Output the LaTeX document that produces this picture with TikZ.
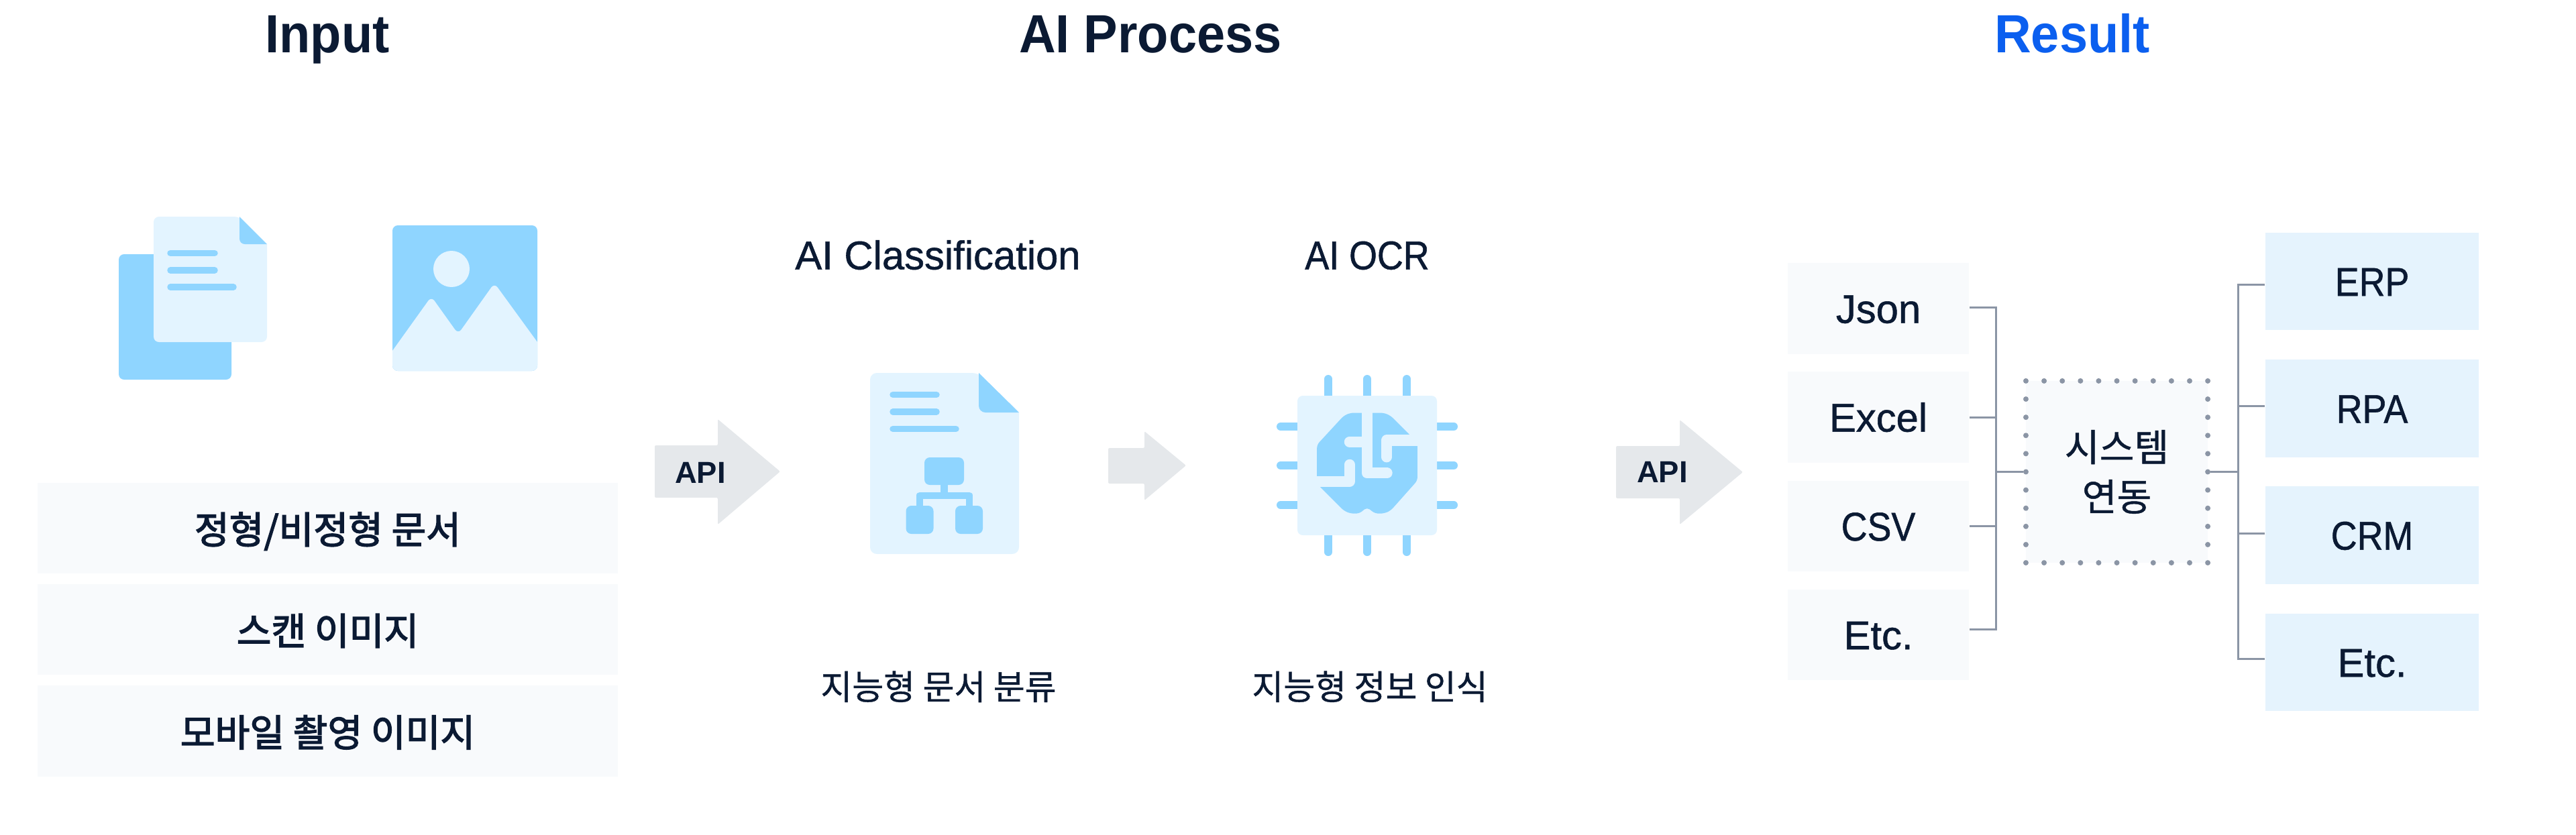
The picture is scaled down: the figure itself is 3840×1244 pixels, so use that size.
\documentclass[tikz,border=0pt]{standalone}
\usepackage{fontspec}
\setmainfont{Liberation Sans}
\newfontfamily\krfont[FakeBold=0.8]{Noto Sans CJK KR}
\newfontfamily\krmedfont[FakeBold=2.6]{Noto Sans CJK KR}
\newfontfamily\latinfont[FakeBold=0.9]{Liberation Sans}
\newfontfamily\capsfont[FakeBold=0.9,FakeStretch=0.9]{Liberation Sans}
\newfontfamily\headfont[FakeStretch=0.945]{Liberation Sans}
\definecolor{inkblue}{HTML}{0B1A33}
\definecolor{resultblue}{HTML}{0B5FEF}
\definecolor{iconblue}{HTML}{8FD5FF}
\definecolor{iconpale}{HTML}{E3F4FF}
\definecolor{boxgrey}{HTML}{F8FAFC}
\definecolor{boxblue}{HTML}{E5F3FD}
\definecolor{arrowgrey}{HTML}{E5E8EB}
\definecolor{linegrey}{HTML}{8B95A5}
\def\fillblue{\fill[color=iconblue]}
\def\fillpale{\fill[color=iconpale]}
\def\fillarrow{\fill[color=arrowgrey,rounded corners=0.02cm]}

\begin{document}
\begin{tikzpicture}[x=0.01cm,y=-0.01cm,inner sep=0pt,
  headtext/.style={text=inkblue,font=\headfont\bfseries\fontsize{22.8}{27}\selectfont,text height=0.57cm,text depth=0pt},
  subtext/.style={text=inkblue,font=\latinfont\fontsize{17}{20}\selectfont,text height=0.43cm,text depth=0pt},
  kotext/.style={text=inkblue,font=\krfont\fontsize{14.5}{20}\selectfont,text height=0.42cm,text depth=0pt},
  apitext/.style={text=inkblue,font=\bfseries\fontsize{12.9}{16}\selectfont,text height=0.35cm,text depth=0pt},
  listbox/.style={fill=boxgrey,text=inkblue,font=\krmedfont\fontsize{16}{20}\selectfont,minimum width=8.65cm,minimum height=1.35cm,text height=0.46cm,text depth=0pt},
  outbox/.style={fill=boxgrey,text=inkblue,font=\latinfont\fontsize{17}{20}\selectfont,minimum width=2.7cm,minimum height=1.35cm,text height=0.43cm,text depth=0pt},
  sysbox/.style={outbox,fill=boxblue,minimum width=3.18cm,minimum height=1.45cm},
  hubbox/.style={fill=boxgrey,draw=linegrey,line width=0.08cm,line cap=round,dash pattern=on 0pt off 0.271cm,minimum width=2.71cm,minimum height=2.71cm},
  linkline/.style={draw=linegrey,line width=0.03cm},
  barline/.style={draw=iconblue,line width=0.095cm,line cap=round},
  pinline/.style={draw=iconblue,line width=0.12cm,line cap=round},
  cutline/.style={draw=iconpale,line width=0.16cm,line cap=round,line join=round}]
\useasboundingbox (0,0) rectangle (3840,1244);

\node[headtext] (inputhead) at (488,50) {Input};
\node[headtext] (aihead) at (1715,50) {AI Process};
\node[headtext,text=resultblue] (resulthead) at (3089,50) {Result};

% input icons
\fillblue[rounded corners=0.08cm] (177,379) rectangle (345,566);
\fillpale[rounded corners=0.08cm] (229,323) -- (357,323) [sharp corners] -- (398,364) [rounded corners=0.08cm] -- (398,510) -- (229,510) -- cycle;
\fillblue (357,323) [rounded corners=0.08cm] -- (357,364) [sharp corners] -- (398,364) -- cycle;
\draw[barline] (254,377.5) -- (320,377.5) (254,403) -- (320,403) (254,428) -- (348,428);
\fillblue[rounded corners=0.08cm] (585,336) rectangle (801,553);
\fillpale (673,401) circle (27);
\fillpale (585,523) [rounded corners=0.08cm] -- (643,442) -- (683,498) -- (737,422) [sharp corners] -- (801,510) [rounded corners=0.08cm] -- (801,553) -- (585,553) [sharp corners] -- cycle;

\node[listbox] (formbox) at (488.5,787.5) {정형/비정형 문서};
\node[listbox] (scanbox) at (488.5,938.5) {스캔 이미지};
\node[listbox] (photobox) at (488.5,1090) {모바일 촬영 이미지};

% arrows
\fillarrow (976,664) -- (1070,664) -- (1070,625) -- (1163,703) -- (1070,782) -- (1070,742) -- (976,742) -- cycle;
\node[apitext] (apileft) at (1044,702.5) {API};
\fillarrow (1652,668) -- (1706,668) -- (1706,643) -- (1768,694) -- (1706,746) -- (1706,721) -- (1652,721) -- cycle;
\fillarrow (2409,665) -- (2504,665) -- (2504,626) -- (2598,704) -- (2504,782) -- (2504,743) -- (2409,743) -- cycle;
\node[apitext] (apiright) at (2478,701.5) {API};

% classification
\node[subtext] (classhead) at (1398,380) {AI Classification};
\fillpale[rounded corners=0.1cm] (1297,556) -- (1459,556) [sharp corners] -- (1519,615) [rounded corners=0.1cm] -- (1519,826) -- (1297,826) -- cycle;
\fillblue (1459,556) [rounded corners=0.1cm] -- (1459,615) [sharp corners] -- (1519,615) -- cycle;
\draw[barline] (1331,588.5) -- (1396,588.5) (1331,614) -- (1396,614) (1331,639.5) -- (1425,639.5);
\fillblue[rounded corners=0.08cm] (1378,682) rectangle (1437,723);
\fillblue (1402,723) rectangle (1413,735);
\draw[draw=iconblue,line width=0.1cm,line join=round] (1371,756) -- (1371,738.5) -- (1445,738.5) -- (1445,756);
\fillblue[rounded corners=0.08cm] (1350.5,754) rectangle (1391.5,796);
\fillblue[rounded corners=0.08cm] (1424,754) rectangle (1465,796);
\node[kotext] (classnote) at (1399,1022) {지능형 문서 분류};

% ocr
\node[subtext,font=\capsfont\fontsize{17}{20}\selectfont] (ocrhead) at (2038,380) {AI OCR};
\draw[pinline] (1980,565) -- (1980,600) (2038,565) -- (2038,600) (2097,565) -- (2097,600);
\draw[pinline] (1980,823) -- (1980,790) (2038,823) -- (2038,790) (2097,823) -- (2097,790);
\draw[pinline] (1909,636) -- (1940,636) (1909,694) -- (1940,694) (1909,753) -- (1940,753);
\draw[pinline] (2167,636) -- (2136,636) (2167,694) -- (2136,694) (2167,753) -- (2136,753);
\fillpale[rounded corners=0.08cm] (1934,590) rectangle (2142,798);
\begin{scope}[shift={(1850,540)},x=0.00333cm,y=-0.00333cm]
\fillblue[rounded corners=0.05cm] (340,370) -- (460,240) -- (490,227) -- (640,227) -- (670,240) -- (790,360) -- (790,530) -- (670,665) -- (640,678) -- (600,678) -- (564,650) -- (530,678) -- (490,678) -- (460,665) -- (340,545) -- cycle;
\draw[cutline] (320,534) -- (486,534) -- (486,459);
\draw[cutline] (564,210) -- (564,497) -- (654,497);
\draw[cutline] (564,357) -- (486,357);
\draw[cutline] (810,350) -- (652,350) -- (652,425);
\end{scope}
\node[kotext] (ocrnote) at (2042,1022) {지능형 정보 인식};

% outputs
\node[outbox] (jsonbox) at (2800,460) {Json};
\node[outbox] (excelbox) at (2800,622) {Excel};
\node[outbox,font=\capsfont\fontsize{17}{20}\selectfont] (csvbox) at (2800,784.5) {CSV};
\node[outbox] (etcbox) at (2800,946.5) {Etc.};
\node[hubbox,align=center,text=inkblue,font=\krfont\fontsize{16}{21}\selectfont] (hubbox) at (3155.5,703.5) {시스템\\연동};
\node[sysbox,font=\capsfont\fontsize{17}{20}\selectfont] (erpbox) at (3536,419.5) {ERP};
\node[sysbox,font=\capsfont\fontsize{17}{20}\selectfont] (rpabox) at (3536,609) {RPA};
\node[sysbox,font=\capsfont\fontsize{17}{20}\selectfont] (crmbox) at (3536,798) {CRM};
\node[sysbox] (etcsys) at (3536,987.5) {Etc.};

\coordinate (leftjoin) at (2975,703.5);
\coordinate (rightjoin) at (3336,703.5);
\draw[linkline] ([yshift=0.02cm]jsonbox.east) -| (leftjoin);
\draw[linkline] (excelbox.east) -| (leftjoin);
\draw[linkline] (csvbox.east) -| (leftjoin);
\draw[linkline] ([yshift=0.08cm]etcbox.east) -| (leftjoin);
\draw[linkline] (leftjoin) -- (hubbox.west);
\draw[linkline] (hubbox.east) -- (rightjoin);
\draw[linkline] ([yshift=-0.05cm]erpbox.west) -| (rightjoin);
\draw[linkline] ([yshift=0.04cm]rpabox.west) -| (rightjoin);
\draw[linkline] ([yshift=0.03cm]crmbox.west) -| (rightjoin);
\draw[linkline] ([yshift=0.05cm]etcsys.west) -| (rightjoin);
\end{tikzpicture}
\end{document}
